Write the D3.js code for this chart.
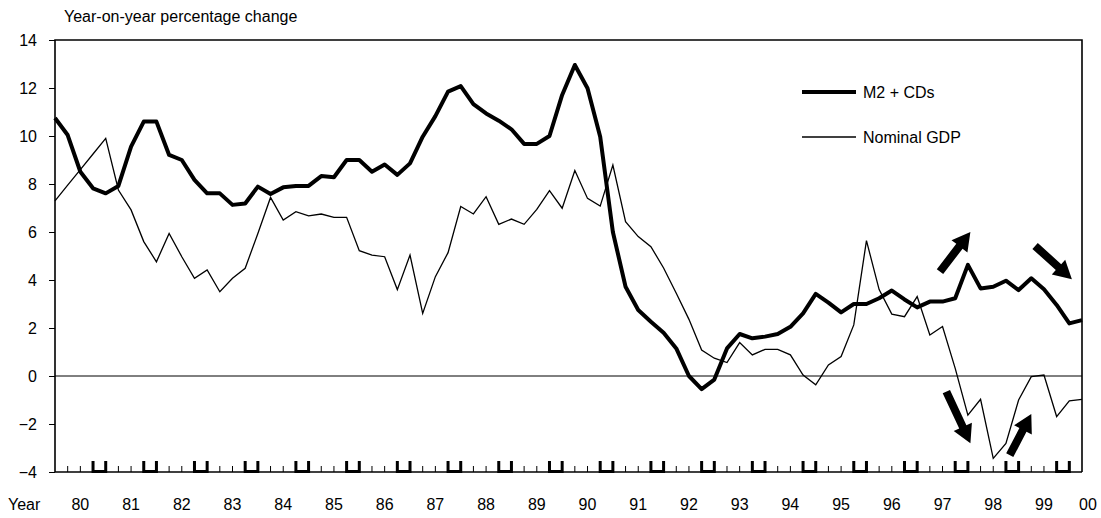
<!DOCTYPE html>
<html>
<head>
<meta charset="utf-8">
<script src="https://cdn.jsdelivr.net/npm/d3@7"></script>
<style>
 body { margin: 0; background: #fff; }
 text { font-family: Arial, "Liberation Sans", sans-serif; fill: #000; }
</style>
</head>
<body>
<script>

// quarterly series, 1980 Q1 .. 2000 Q2
var startYear = 1980
var yearLabels = ['80','81','82','83','84','85','86','87','88','89','90',
                  '91','92','93','94','95','96','97','98','99','00']

var m2cds = [
 10.75, 10.04,  8.51,  7.82,  7.61,  7.92,  9.56, 10.60, 10.60,  9.21,
  9.00,  8.17,  7.61,  7.61,  7.13,  7.19,  7.89,  7.58,  7.86,  7.92,
  7.92,  8.33,  8.28,  9.00,  9.00,  8.51,  8.81,  8.38,  8.86,  9.97,
 10.83, 11.85, 12.08, 11.33, 10.94, 10.64, 10.28,  9.67,  9.67, 10.00,
 11.71, 12.96, 11.99,  9.97,  6.00,  3.72,  2.75,  2.26,  1.80,  1.15,
  0.00, -0.55, -0.15,  1.15,  1.75,  1.57,  1.64,  1.75,  2.05,  2.61,
  3.42,  3.06,  2.65,  3.00,  3.00,  3.24,  3.56,  3.19,  2.86,  3.10,
  3.10,  3.24,  4.63,  3.65,  3.72,  3.97,  3.58,  4.07,  3.61,  2.96,
  2.19,  2.33 ]

var nominalGdp = [
  7.30,  7.95,  8.60,  9.25,  9.90,  7.75,  6.92,  5.60,  4.76,  5.94,
  4.97,  4.07,  4.42,  3.51,  4.07,  4.49,  5.94,  7.44,  6.50,  6.85,
  6.67,  6.75,  6.61,  6.61,  5.22,  5.04,  4.97,  3.60,  5.04,  2.61,
  4.14,  5.14,  7.06,  6.75,  7.47,  6.32,  6.54,  6.32,  6.94,  7.72,
  6.99,  8.56,  7.40,  7.08,  8.79,  6.43,  5.81,  5.39,  4.50,  3.45,
  2.36,  1.08,  0.74,  0.56,  1.39,  0.88,  1.11,  1.11,  0.88,  0.04,
 -0.37,  0.46,  0.81,  2.13,  5.64,  3.60,  2.58,  2.47,  3.31,  1.71,
  2.06,  0.32, -1.63, -0.97, -3.43, -2.81, -1.00, -0.03,  0.04, -1.69,
 -1.04, -0.97 ]

var yTicks = [-4, -2, 0, 2, 4, 6, 8, 10, 12, 14]

var seriesNames = ['M2 + CDs', 'Nominal GDP']

// arrows: [from index, from value, to index, to value]
var arrows = [
 [69.8,  4.35, 72.2,  6.00],
 [77.3,  5.42, 80.2,  4.03],
 [70.3, -0.65, 72.2, -2.80],
 [75.3, -3.30, 77.0, -1.58]
]

var width = 1101, height = 518
var margin = {top: 40, right: 19, bottom: 46, left: 55}

var quarters = m2cds.map(function(d, i) {
 return (startYear + Math.floor(i / 4)) + 'Q' + (i % 4 + 1)
})

var x = d3.scaleLinear().domain([0, quarters.length - 1]).range([margin.left, width - margin.right])
var y = d3.scaleLinear().domain([-4, 14]).range([height - margin.bottom, margin.top])

var svg = d3.select('body').append('svg')
  .attr('width', width)
  .attr('height', height)

var x0 = x.range()[0], x1 = x.range()[1]
var yb = y.range()[0], yt = y.range()[1]

// y axis
var yAxis = d3.axisLeft(y).tickValues(yTicks).tickSize(6).tickPadding(12)
  .tickFormat(function(d) { return d < 0 ? '\u2212' + Math.abs(d) : d })
var gy = svg.append('g').attr('transform', 'translate(' + x0 + ',0)').call(yAxis)
gy.select('.domain').remove()
gy.selectAll('.tick line').attr('stroke', '#000').attr('stroke-width', 1)
gy.selectAll('.tick text').style('font-size', '16px').attr('fill', '#000')

// frame
svg.append('path')
  .attr('d', 'M' + x0 + ',' + yb + 'V' + yt + 'H' + x1 + 'V' + yb)
  .attr('fill', 'none').attr('stroke', '#000').attr('stroke-width', 1.6)
svg.append('line')
  .attr('x1', x0).attr('x2', x1).attr('y1', yb).attr('y2', yb)
  .attr('stroke', '#000').attr('stroke-width', 1.6)

// zero line
svg.append('line')
  .attr('x1', x0).attr('x2', x1).attr('y1', y(0)).attr('y2', y(0))
  .attr('stroke', '#000').attr('stroke-width', 1)

// quarter ticks, thin ones
var thin = d3.range(1, quarters.length - 1).filter(function(k) { return k % 4 == 1 || k % 4 == 2 })
svg.selectAll('.qtick').data(thin).enter().append('line')
  .attr('class', 'qtick')
  .attr('x1', function(k) { return x(k) }).attr('x2', function(k) { return x(k) })
  .attr('y1', yb).attr('y2', yb - 6)
  .attr('stroke', '#000').attr('stroke-width', 1)

// year-end brackets (Q4 -> Q1)
var brackets = d3.range(3, quarters.length - 1, 4)
svg.selectAll('.ybr').data(brackets).enter().append('path')
  .attr('class', 'ybr')
  .attr('d', function(k) {
    return 'M' + x(k) + ',' + (yb - 11) + 'V' + (yb - 0.5) + 'H' + x(k + 1) + 'V' + (yb - 11)
  })
  .attr('fill', 'none').attr('stroke', '#000').attr('stroke-width', 3)

// year labels
svg.selectAll('.ylab').data(yearLabels).enter().append('text')
  .attr('class', 'ylab')
  .attr('x', function(d, j) { return Math.min(x(4 * j + 2), x1 + 6) })
  .attr('y', 510)
  .attr('text-anchor', 'middle')
  .style('font-size', '16px')
  .text(function(d) { return d })

svg.append('text').attr('x', 8).attr('y', 510).style('font-size', '16px').text('Year')
svg.append('text').attr('x', 64).attr('y', 22).style('font-size', '16px').text('Year-on-year percentage change')

// lines
var line = d3.line().x(function(d, i) { return x(i) }).y(function(d) { return y(d) })

svg.append('path').datum(nominalGdp)
  .attr('d', line).attr('fill', 'none').attr('stroke', '#000')
  .attr('stroke-width', 1.3).attr('stroke-linejoin', 'miter')

svg.append('path').datum(m2cds)
  .attr('d', line).attr('fill', 'none').attr('stroke', '#000')
  .attr('stroke-width', 4).attr('stroke-linejoin', 'round')

// legend
var legend = svg.append('g')
var lw = [4, 1.3]
seriesNames.forEach(function(name, i) {
  var ly = 92 + i * 45
  legend.append('line').attr('x1', 802).attr('x2', 856).attr('y1', ly).attr('y2', ly)
    .attr('stroke', '#000').attr('stroke-width', lw[i])
  legend.append('text').attr('x', 863).attr('y', ly + 6).style('font-size', '16px').text(name)
})

// arrows
function arrowPath(a) {
  var ax = x(a[0]), ay = y(a[1]), bx = x(a[2]), by = y(a[3])
  var dx = bx - ax, dy = by - ay
  var len = Math.sqrt(dx * dx + dy * dy)
  var ux = dx / len, uy = dy / len, px = -uy, py = ux
  var sw = 4, hw = 10, hl = 18
  var hx = bx - ux * hl, hy = by - uy * hl
  var pts = [
    [ax + px * sw, ay + py * sw],
    [hx + px * sw, hy + py * sw],
    [hx + px * hw, hy + py * hw],
    [bx, by],
    [hx - px * hw, hy - py * hw],
    [hx - px * sw, hy - py * sw],
    [ax - px * sw, ay - py * sw]
  ]
  return 'M' + pts.map(function(p) { return p[0].toFixed(1) + ',' + p[1].toFixed(1) }).join('L') + 'Z'
}

svg.selectAll('.arrow').data(arrows).enter().append('path')
  .attr('class', 'arrow')
  .attr('d', arrowPath)
  .attr('fill', '#000')

</script>
</body>
</html>
